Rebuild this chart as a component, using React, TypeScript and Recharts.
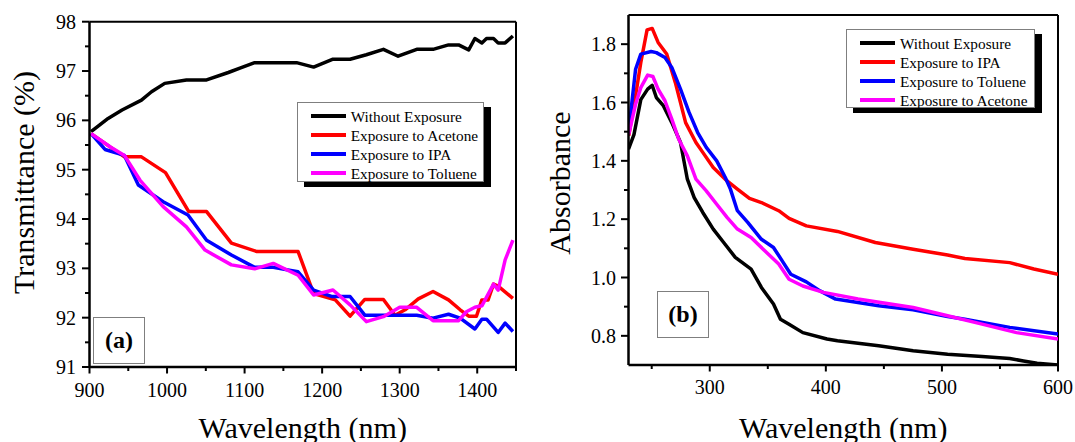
import React from 'react';
import { LineChart, Line, XAxis, YAxis, Legend, ReferenceLine, Label } from 'recharts';

const FONT = 'Liberation Serif';

// ---------- Panel (a): Transmittance (%) vs wavelength (nm) ----------
const aNames = ['Without Exposure', 'Exposure to Acetone', 'Exposure to IPA', 'Exposure to Toluene'];
const aColors = ['#000000', '#ff0000', '#0000ff', '#ff00ff'];
const aXTicks = [900, 950, 1000, 1050, 1100, 1150, 1200, 1250, 1300, 1350, 1400, 1450];
const aYTicks = [91, 91.5, 92, 92.5, 93, 93.5, 94, 94.5, 95, 95.5, 96, 96.5, 97, 97.5, 98];

const aWithout: [number, number][] = [
  [902, 95.77], [924, 96.04], [942, 96.21], [967, 96.41], [980, 96.58], [997, 96.75],
  [1025, 96.82], [1051, 96.82], [1079, 96.97], [1094, 97.06], [1113, 97.17], [1167, 97.17],
  [1189, 97.08], [1214, 97.24], [1236, 97.24], [1257, 97.33], [1279, 97.44], [1298, 97.3],
  [1322, 97.44], [1343, 97.44], [1363, 97.53], [1376, 97.53], [1389, 97.43], [1397, 97.66],
  [1406, 97.57], [1412, 97.66], [1421, 97.66], [1427, 97.57], [1436, 97.57], [1446, 97.71],
];
const aAcetone: [number, number][] = [
  [902, 95.73], [945, 95.26], [967, 95.26], [998, 94.94], [1028, 94.15], [1051, 94.15],
  [1083, 93.51], [1116, 93.34], [1169, 93.34], [1189, 92.49], [1217, 92.36], [1236, 92.03],
  [1255, 92.37], [1279, 92.37], [1294, 92.05], [1307, 92.16], [1324, 92.38], [1343, 92.53],
  [1363, 92.36], [1378, 92.16], [1389, 92.03], [1399, 92.03], [1406, 92.36], [1414, 92.36],
  [1421, 92.68], [1427, 92.64], [1446, 92.39],
];
const aIPA: [number, number][] = [
  [902, 95.73], [920, 95.41], [945, 95.29], [963, 94.69], [995, 94.35], [1027, 94.08],
  [1051, 93.57], [1083, 93.27], [1113, 93.02], [1137, 93.02], [1169, 92.93], [1189, 92.56],
  [1212, 92.43], [1236, 92.43], [1255, 92.05], [1322, 92.05], [1343, 91.99], [1363, 92.07],
  [1378, 91.99], [1397, 91.77], [1406, 91.97], [1412, 91.97], [1427, 91.7], [1436, 91.89],
  [1446, 91.72],
];
const aToluene: [number, number][] = [
  [902, 95.73], [927, 95.46], [945, 95.29], [965, 94.79], [995, 94.25], [1025, 93.84],
  [1049, 93.37], [1083, 93.07], [1113, 92.99], [1137, 93.1], [1169, 92.86], [1189, 92.46],
  [1214, 92.56], [1236, 92.26], [1257, 91.92], [1279, 92.02], [1300, 92.21], [1322, 92.21],
  [1343, 91.94], [1376, 91.94], [1386, 92.12], [1397, 92.21], [1406, 92.24], [1421, 92.68],
  [1427, 92.56], [1436, 93.17], [1446, 93.57],
];

// ---------- Panel (b): Absorbance vs wavelength (nm) ----------
const bNames = ['Without Exposure', 'Exposure to IPA', 'Exposure to Toluene', 'Exposure to Acetone'];
const bColors = ['#000000', '#ff0000', '#0000ff', '#ff00ff'];
const bXTicks = [250, 300, 350, 400, 450, 500, 550, 600];
const bYTicks = [0.8, 0.9, 1.0, 1.1, 1.2, 1.3, 1.4, 1.5, 1.6, 1.7, 1.8];

const bWithout: [number, number][] = [
  [230, 1.44], [234.7, 1.49], [240.6, 1.61], [246.5, 1.646], [250.4, 1.659], [254, 1.617],
  [260, 1.589], [267.3, 1.531], [274.8, 1.463], [280.7, 1.337], [286.6, 1.274], [294, 1.223],
  [303, 1.166], [312, 1.12], [322, 1.069], [335.6, 1.029], [344.5, 0.966], [354.9, 0.909],
  [360.9, 0.857], [368.3, 0.84], [380.2, 0.811], [401, 0.789], [410, 0.783], [445.5, 0.766],
  [475.2, 0.749], [504.9, 0.737], [534.6, 0.729], [558.4, 0.722], [570.3, 0.714], [582, 0.706],
  [600, 0.7],
];
const bIPA: [number, number][] = [
  [230.2, 1.486], [236.1, 1.623], [240.6, 1.737], [246, 1.849], [250.4, 1.854], [255.5, 1.806],
  [262.9, 1.766], [270.3, 1.669], [279.2, 1.531], [288.1, 1.463], [294, 1.429], [303, 1.377],
  [314.9, 1.331], [323.8, 1.303], [334.2, 1.271], [344.5, 1.257], [359.4, 1.229], [368.3, 1.203],
  [383.2, 1.177], [410, 1.158], [442.6, 1.12], [475.2, 1.097], [504.9, 1.077], [519.8, 1.065],
  [558.4, 1.051], [579.2, 1.029], [600, 1.011],
];
const bToluene: [number, number][] = [
  [230.2, 1.503], [236.1, 1.714], [240.6, 1.766], [249.5, 1.775], [254, 1.771], [261.4, 1.754],
  [267.3, 1.72], [274.8, 1.646], [282.2, 1.566], [289.6, 1.497], [297, 1.446], [306, 1.4],
  [313.4, 1.343], [317.8, 1.303], [323.8, 1.229], [332.7, 1.189], [344.5, 1.131], [354.9, 1.103],
  [362.4, 1.057], [369.8, 1.011], [383.2, 0.985], [395, 0.954], [408.4, 0.926], [445.5, 0.903],
  [475.2, 0.889], [504.9, 0.866], [519.8, 0.857], [558.4, 0.829], [600, 0.806],
];
const bAcetone: [number, number][] = [
  [230.2, 1.491], [236.1, 1.594], [240.6, 1.651], [246.5, 1.694], [251, 1.689], [255.5, 1.646],
  [261.4, 1.606], [267.3, 1.543], [273.3, 1.474], [280.7, 1.417], [288.1, 1.337], [297, 1.297],
  [306, 1.251], [314.9, 1.206], [323.8, 1.166], [335.6, 1.137], [346, 1.097], [359.4, 1.046],
  [368.3, 0.994], [380.2, 0.971], [398, 0.949], [427.7, 0.926], [475.2, 0.897], [504.9, 0.869],
  [534.6, 0.84], [564.3, 0.811], [600, 0.789],
];

const toPts = (arr: [number, number][]) => arr.map(([x, y]) => ({ x, y }));

const aSeries = [aWithout, aAcetone, aIPA, aToluene].map(toPts);
const bSeries = [bWithout, bIPA, bToluene, bAcetone].map(toPts);

// ---------- helpers ----------
const makeXTick = (isMajor: (v: number) => boolean, labelDy: number) => (props: any) => {
  const { x, y, payload } = props;
  const v = payload.value;
  const major = isMajor(v);
  return (
    <g>
      <line x1={x} x2={x} y1={y} y2={y + (major ? 6.5 : 4)} stroke="#000" strokeWidth={2} />
      {major && (
        <text x={x} y={y + labelDy} textAnchor="middle" fontSize={20} fontFamily={FONT} style={{ fontFamily: FONT }} fill="#000">
          {v}
        </text>
      )}
    </g>
  );
};

const makeYTick = (isMajor: (v: number) => boolean, fmt: (v: number) => string, labelGap: number) => (props: any) => {
  const { x, y, payload } = props;
  const v = payload.value;
  const major = isMajor(v);
  return (
    <g>
      <line x1={x} x2={x - (major ? 7.5 : 4.5)} y1={y} y2={y} stroke="#000" strokeWidth={2} />
      {major && (
        <text x={x - labelGap} y={y + 7} textAnchor="end" fontSize={20} fontFamily={FONT} style={{ fontFamily: FONT }} fill="#000">
          {fmt(v)}
        </text>
      )}
    </g>
  );
};

const xTitle = (text: string, bottomGap: number) => (props: any) => {
  const vb = props.viewBox || {};
  return (
    <text
      x={vb.x + vb.width / 2}
      y={vb.y + vb.height - bottomGap}
      textAnchor="middle"
      fontSize={30}
      fontFamily={FONT}
      style={{ fontFamily: FONT }}
      fill="#000"
    >
      {text}
    </text>
  );
};

const yTitle = (text: string, cx: number, cy: number) => () => (
  <text
    x={cx}
    y={cy}
    transform={`rotate(-90 ${cx} ${cy})`}
    textAnchor="middle"
    dominantBaseline="central"
    fontSize={30}
    fontFamily={FONT}
    style={{ fontFamily: FONT }}
    fill="#000"
  >
    {text}
  </text>
);

const LegendBox = (props: any) => {
  const { payload, order, w, h } = props;
  const items = [...(payload || [])].sort(
    (a: any, b: any) => order.indexOf(a.value) - order.indexOf(b.value)
  );
  return (
    <div
      style={{
        boxSizing: 'border-box',
        width: w,
        height: h,
        border: '1px solid #7f7f7f',
        background: '#fff',
        boxShadow: '7px 5px 0 #000',
        paddingTop: 3.5,
        fontFamily: FONT,
      }}
    >
      {items.map((it: any) => (
        <div key={it.value} style={{ display: 'flex', alignItems: 'center', height: 19 }}>
          <span style={{ display: 'inline-block', marginLeft: 13, width: 35, height: 4, background: it.color }} />
          <span style={{ marginLeft: 5, fontSize: 15.3, lineHeight: '19px', color: '#000', whiteSpace: 'nowrap', fontFamily: FONT }}>
            {it.value}
          </span>
        </div>
      ))}
    </div>
  );
};

const tagStyle = (left: number, top: number): React.CSSProperties => ({
  position: 'absolute',
  left,
  top,
  width: 52.6,
  height: 47,
  boxSizing: 'border-box',
  border: '1px solid #7f7f7f',
  background: '#fff',
  display: 'flex',
  alignItems: 'center',
  justifyContent: 'center',
  fontFamily: FONT,
  fontWeight: 'bold',
  fontSize: 24,
  color: '#000',
});

const axisLineStyle = { stroke: '#000', strokeWidth: 2.5 };

export default function App() {
  return (
    <div style={{ position: 'absolute', left: 0, top: 0, width: 1075, height: 442, background: '#fff', overflow: 'hidden', fontFamily: FONT }}>
      {/* Panel (a) */}
      <div style={{ position: 'absolute', left: 0, top: 0 }}>
        <LineChart width={540} height={442} margin={{ top: 21.7, right: 24, bottom: 0, left: 0 }} style={{ fontFamily: FONT }}>
          <XAxis
            dataKey="x"
            type="number"
            domain={[900, 1450]}
            allowDataOverflow
            ticks={aXTicks}
            interval={0}
            height={75}
            tickSize={0}
            tickMargin={0}
            tickLine={false}
            axisLine={axisLineStyle}
            tick={makeXTick((v) => v % 100 === 0, 29.5)}
          >
            <Label content={xTitle('Wavelength (nm)', 4.5)} />
          </XAxis>
          <YAxis
            type="number"
            domain={[91, 98]}
            allowDataOverflow
            ticks={aYTicks}
            interval={0}
            width={89.5}
            tickSize={0}
            tickMargin={0}
            tickLine={false}
            axisLine={axisLineStyle}
            tick={makeYTick((v) => Number.isInteger(v), (v) => String(v), 13.5)}
          >
            <Label content={yTitle('Transmittance (%)', 23.5, 182.5)} />
          </YAxis>
          <ReferenceLine y={98} stroke="#000" strokeWidth={2} ifOverflow="visible" />
          <ReferenceLine x={1450} stroke="#000" strokeWidth={2} ifOverflow="visible" />
          {aSeries.map((pts, i) => (
            <Line
              key={aNames[i]}
              data={pts}
              dataKey="y"
              name={aNames[i]}
              type="linear"
              stroke={aColors[i]}
              strokeWidth={3.5}
              strokeLinejoin="round"
              dot={false}
              activeDot={false}
              isAnimationActive={false}
            />
          ))}
          <Legend
            layout="vertical"
            align="center"
            verticalAlign="middle"
            wrapperStyle={{ left: 296.7, top: 102.3, width: 188, height: 80 }}
            content={(p: any) => <LegendBox {...p} order={aNames} w={187.3} h={80} />}
          />
        </LineChart>
      </div>

      {/* Panel (b) */}
      <div style={{ position: 'absolute', left: 540, top: 0 }}>
        <LineChart width={535} height={442} margin={{ top: 15, right: 17, bottom: 0, left: 0 }} style={{ fontFamily: FONT }}>
          <XAxis
            dataKey="x"
            type="number"
            domain={[230, 600]}
            allowDataOverflow
            ticks={bXTicks}
            interval={0}
            height={77}
            tickSize={0}
            tickMargin={0}
            tickLine={false}
            axisLine={axisLineStyle}
            tick={makeXTick((v) => v % 100 === 0, 28.5)}
          >
            <Label content={xTitle('Wavelength (nm)', 4.5)} />
          </XAxis>
          <YAxis
            type="number"
            domain={[0.7, 1.9]}
            allowDataOverflow
            ticks={bYTicks}
            interval={0}
            width={88.5}
            tickSize={0}
            tickMargin={0}
            tickLine={false}
            axisLine={axisLineStyle}
            tick={makeYTick((v) => Math.round(v * 10) % 2 === 0, (v) => v.toFixed(1), 12.5)}
          >
            <Label content={yTitle('Absorbance', 19, 183)} />
          </YAxis>
          <ReferenceLine y={1.9} stroke="#000" strokeWidth={2} ifOverflow="visible" />
          <ReferenceLine x={600} stroke="#000" strokeWidth={2} ifOverflow="visible" />
          {bSeries.map((pts, i) => (
            <Line
              key={bNames[i]}
              data={pts}
              dataKey="y"
              name={bNames[i]}
              type="linear"
              stroke={bColors[i]}
              strokeWidth={3.5}
              strokeLinejoin="round"
              dot={false}
              activeDot={false}
              isAnimationActive={false}
            />
          ))}
          <Legend
            layout="vertical"
            align="center"
            verticalAlign="middle"
            wrapperStyle={{ left: 306, top: 29.3, width: 190, height: 79 }}
            content={(p: any) => <LegendBox {...p} order={bNames} w={189} h={79} />}
          />
        </LineChart>
      </div>

      <div style={tagStyle(92.7, 317.3)}>(a)</div>
      <div style={tagStyle(656.7, 290.7)}>(b)</div>
    </div>
  );
}
